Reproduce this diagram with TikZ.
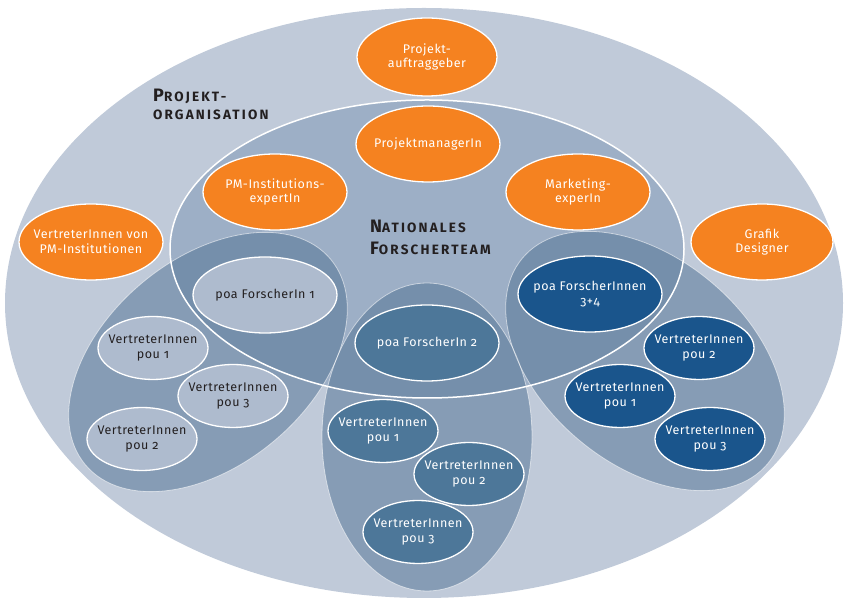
\documentclass[tikz,border=0pt]{standalone}
\usepackage{fontspec}
\setmainfont{Fira Sans}[Numbers=OldStyle]
\usetikzlibrary{shapes.geometric}

\definecolor{outerbg}{RGB}{192,202,217}
\definecolor{teambg}{RGB}{157,175,198}
\definecolor{groupbg}{RGB}{78,112,146}
\definecolor{orangefill}{RGB}{245,130,32}
\definecolor{lightfill}{RGB}{174,187,206}
\definecolor{midfill}{RGB}{77,119,153}
\definecolor{darkfill}{RGB}{26,85,140}
\definecolor{titletext}{RGB}{35,31,32}

\begin{document}
\begin{tikzpicture}[x=1pt, y=1pt,
    blob/.style={ellipse, draw=white, line width=1.3pt, inner sep=-8pt, align=center,
        font=\addfontfeature{LetterSpace=4}\fontsize{12.5}{14.5}\selectfont},
    orangeblob/.style={blob, fill=orangefill, text=white, minimum width=142pt, minimum height=76pt},
    lightblob/.style={blob, fill=lightfill, text=titletext},
    midblob/.style={blob, fill=midfill, text=white},
    darkblob/.style={blob, fill=darkfill, text=white},
    bigpoa/.style={minimum width=144pt, minimum height=76pt},
    pou/.style={minimum width=110pt, minimum height=63pt},
    group/.style={fill=groupbg, fill opacity=0.5},
    groupline/.style={draw=white, draw opacity=0.55, line width=0.8pt},
    title/.style={text=titletext, align=left, inner sep=0pt}]
    \useasboundingbox (0,0) rectangle (844,599);

    \fill[outerbg] (424,296) ellipse (419pt and 295pt);
    \fill[teambg] (427,350) ellipse (257pt and 149pt);

    \fill[group, rotate around={40:(208,237)}] (208,237) ellipse (160pt and 103pt);
    \fill[group, rotate around={-40:(645,238)}] (645,238) ellipse (160pt and 103pt);
    \fill[group] (427,162) ellipse (105pt and 154pt);
    \draw[groupline, rotate around={40:(208,237)}] (208,237) ellipse (160pt and 103pt);
    \draw[groupline, rotate around={-40:(645,238)}] (645,238) ellipse (160pt and 103pt);
    \draw[groupline] (427,162) ellipse (105pt and 154pt);

    \draw[white, line width=1.5pt] (427,350) ellipse (257pt and 149pt);

    \node[orangeblob, minimum width=140pt, minimum height=78pt] (auftrag) at (427,542) {Projekt-\\auftraggeber};
    \node[orangeblob, minimum width=144pt] (manager) at (428,455) {ProjektmanagerIn};
    \node[orangeblob, minimum width=144pt] (pminst) at (275,407) {PM-Institutions-\\expertIn};
    \node[orangeblob, minimum width=144pt] (marketing) at (578,407) {Marketing-\\experIn};
    \node[orangeblob, minimum width=144pt] (vertpm) at (91,357) {VertreterInnen von\\PM-Institutionen};
    \node[orangeblob] (grafik) at (762,357) {Grafik\\Designer};

    \node[lightblob, bigpoa] (poaone) at (265,304) {poa ForscherIn 1};
    \node[lightblob, pou] (lpouone) at (153,251) {VertreterInnen\\pou 1};
    \node[lightblob, pou] (lpouthree) at (233,203) {VertreterInnen\\pou 3};
    \node[lightblob, pou] (lpoutwo) at (142,160) {VertreterInnen\\pou 2};

    \node[midblob, bigpoa] (poatwo) at (427,256) {poa ForscherIn 2};
    \node[midblob, pou] (mpouone) at (383,168) {VertreterInnen\\pou 1};
    \node[midblob, pou] (mpoutwo) at (469,125) {VertreterInnen\\pou 2};
    \node[midblob, pou] (mpouthree) at (418,67) {VertreterInnen\\pou 3};

    \node[darkblob, bigpoa] (poathree) at (590,305) {poa ForscherInnen\\3+4};
    \node[darkblob, pou] (rpoutwo) at (699,251) {VertreterInnen\\pou 2};
    \node[darkblob, pou] (rpouone) at (620,203) {VertreterInnen\\pou 1};
    \node[darkblob, pou] (rpouthree) at (710,160) {VertreterInnen\\pou 3};

    \node[title, anchor=base west, font=\bfseries\addfontfeature{LetterSpace=16}\fontsize{13.5}{18.5}\selectfont]
        (orgtitle) at (153,479)
        {{\fontsize{18}{18.5}\selectfont P}ROJEKT-\\ORGANISATION};
    \node[title, anchor=base west, font=\bfseries\addfontfeature{LetterSpace=16}\fontsize{13.5}{22}\selectfont]
        (teamtitle) at (370,344)
        {{\fontsize{18}{22}\selectfont N}ATIONALES\\{\fontsize{18}{22}\selectfont F}ORSCHERTEAM};
\end{tikzpicture}
\end{document}
